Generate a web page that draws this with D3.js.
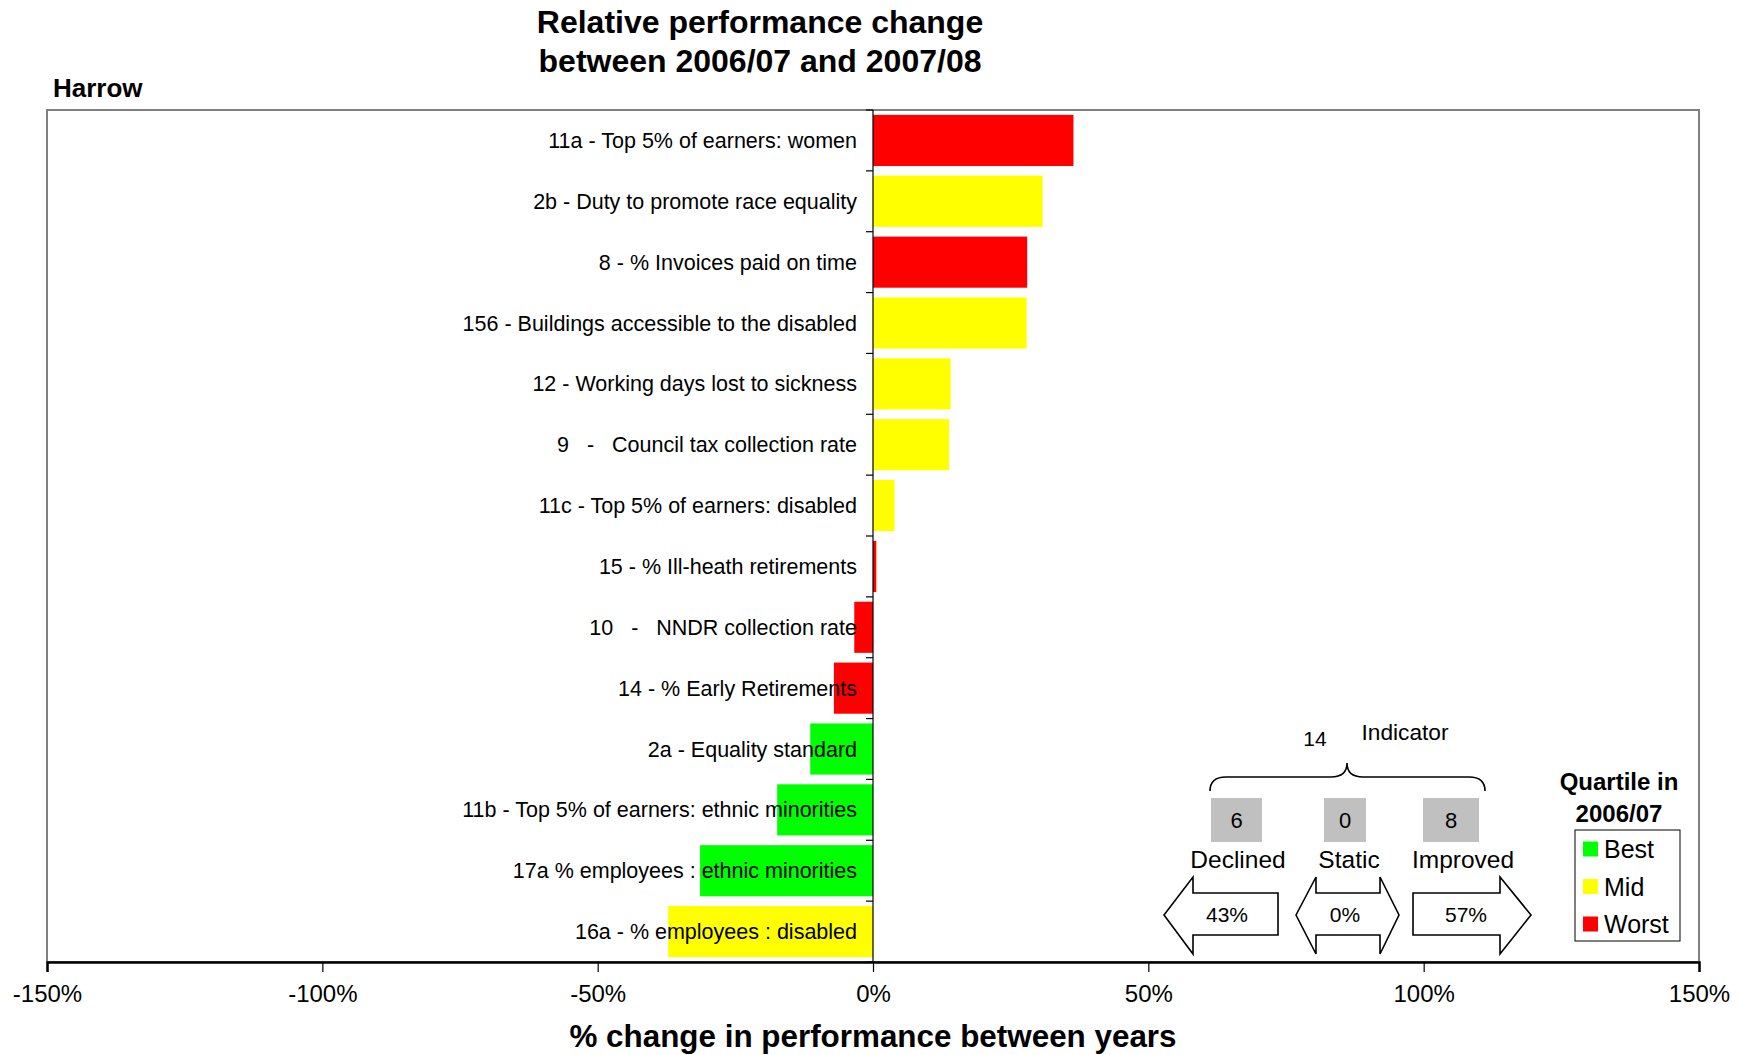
<!DOCTYPE html>
<html><head><meta charset="utf-8">
<script src="https://cdn.jsdelivr.net/npm/d3@7"></script>
<style>
body{margin:0;background:#fff;}
svg{font-family:"Liberation Sans",Arial,sans-serif;}
text{white-space:pre;}
</style></head>
<body><svg id="c" width="1740" height="1055"></svg>
<script>
const categories = [
  "11a - Top 5% of earners: women",
  "2b - Duty to promote race equality",
  "8 - % Invoices paid on time",
  "156 - Buildings accessible to the disabled",
  "12 - Working days lost to sickness",
  "9   -   Council tax collection rate",
  "11c - Top 5% of earners: disabled",
  "15 - % Ill-heath retirements",
  "10   -   NNDR collection rate",
  "14 - % Early Retirements",
  "2a - Equality standard",
  "11b - Top 5% of earners: ethnic minorities",
  "17a % employees : ethnic minorities",
  "16a - % employees : disabled"
];
const values = [36.4, 30.8, 28.0, 27.9, 14.1, 13.8, 3.9, 0.6, -3.4, -7.1, -11.4, -17.4, -31.4, -37.2];
const quartiles = ["Worst","Mid","Worst","Mid","Mid","Mid","Mid","Worst","Worst","Worst","Best","Best","Best","Mid"];
const xTicks = [-150, -100, -50, 0, 50, 100, 150];
const legendLabels = ["Best","Mid","Worst"];
const legendColors = ["#00FF00","#FFFF00","#FF0000"];
const summaryLabels = ["Declined","Static","Improved"];
const summaryCounts = [6, 0, 8];
const summaryPercents = ["43%","0%","57%"];
const totalIndicators = 14;

const colorOf = d3.scaleOrdinal().domain(legendLabels).range(legendColors);
const svg = d3.select("#c");
const L = 47, R = 1699, T = 110, B = 962;
const x = d3.scaleLinear().domain([-150,150]).range([L,R]);
const y = d3.scaleBand().domain(categories).range([T,B]).paddingInner(0.16).paddingOuter(0.08);
const step = y.step();

// Titles
svg.append("text").attr("x",760).attr("y",33).attr("text-anchor","middle")
  .attr("font-weight","bold").attr("font-size",32).text("Relative performance change");
svg.append("text").attr("x",760).attr("y",72).attr("text-anchor","middle")
  .attr("font-weight","bold").attr("font-size",32).text("between 2006/07 and 2007/08");
svg.append("text").attr("x",53).attr("y",97).attr("font-weight","bold").attr("font-size",26).text("Harrow");

// plot border
svg.append("rect").attr("x",L).attr("y",T).attr("width",R-L).attr("height",B-T)
  .attr("fill","none").attr("stroke","#808080").attr("stroke-width",2);

// bars
svg.append("g").selectAll("rect").data(categories).join("rect")
  .attr("x",(d,i)=>x(Math.min(0,values[i])))
  .attr("y",d=>y(d))
  .attr("width",(d,i)=>Math.abs(x(values[i])-x(0)))
  .attr("height",y.bandwidth())
  .attr("fill",(d,i)=>colorOf(quartiles[i]));

// zero axis with category ticks
svg.append("line").attr("x1",x(0)).attr("x2",x(0)).attr("y1",T).attr("y2",B)
  .attr("stroke","#000").attr("stroke-width",1.2);
svg.append("g").selectAll("line").data(d3.range(categories.length+1)).join("line")
  .attr("x1",x(0)-7).attr("x2",x(0)).attr("y1",i=>T+i*step).attr("y2",i=>T+i*step)
  .attr("stroke","#000").attr("stroke-width",1.2);

// category labels
svg.append("g").selectAll("text").data(categories).join("text")
  .attr("x",x(0)-16).attr("y",d=>y(d)+y.bandwidth()/2).attr("dy","0.35em")
  .attr("text-anchor","end").attr("font-size",21.5).attr("fill","#000").text(d=>d);

// x axis
const xa = svg.append("g").attr("transform",`translate(0,${B})`)
  .call(d3.axisBottom(x).tickValues(xTicks).tickFormat(d=>d+"%").tickSize(10).tickPadding(13));
xa.select(".domain").attr("stroke","#000").attr("stroke-width",2.5);
xa.selectAll(".tick line").attr("stroke","#000").attr("stroke-width",1.2);
xa.selectAll(".tick text").attr("font-size",24).attr("font-family","Liberation Sans, Arial, sans-serif").attr("fill","#000");

svg.append("text").attr("x",x(0)).attr("y",1047).attr("text-anchor","middle")
  .attr("font-weight","bold").attr("font-size",31.4).text("% change in performance between years");

// Summary annotation
const ann = svg.append("g");
ann.append("text").attr("x",1315).attr("y",746).attr("text-anchor","middle").attr("font-size",21).text(String(totalIndicators));
ann.append("text").attr("x",1405).attr("y",740).attr("text-anchor","middle").attr("font-size",22.7).text("Indicator");
svg.append("defs").append("clipPath").attr("id","clipS").append("rect")
  .attr("x",1380).attr("y",745).attr("width",50).attr("height",16);
ann.append("text").attr("x",1405).attr("y",777).attr("text-anchor","middle").attr("font-size",22.7)
  .attr("clip-path","url(#clipS)").text("s");
// brace
ann.append("path").attr("fill","none").attr("stroke","#000").attr("stroke-width",1.6)
  .attr("d","M1210,791 Q1210,777 1226,777 L1331,777 Q1347,777 1347,763 Q1347,777 1363,777 L1469,777 Q1485,777 1485,791");

const boxX = [[1211,1262],[1324,1366],[1423,1479]];
const labelX = [1238,1349,1463];
boxX.forEach((b,i)=>{
  ann.append("rect").attr("x",b[0]).attr("y",798).attr("width",b[1]-b[0]).attr("height",44).attr("fill","#C0C0C0");
  ann.append("text").attr("x",(b[0]+b[1])/2).attr("y",828).attr("text-anchor","middle").attr("font-size",22).text(String(summaryCounts[i]));
  ann.append("text").attr("x",labelX[i]).attr("y",868).attr("text-anchor","middle").attr("font-size",24.5).text(summaryLabels[i]);
});
const arrowStyle = s=>s.attr("fill","#fff").attr("stroke","#000").attr("stroke-width",1.6);
arrowStyle(ann.append("path").attr("d","M1164,915 L1193,877 L1193,893 L1278,893 L1278,935 L1193,935 L1193,954 Z"));
arrowStyle(ann.append("path").attr("d","M1296,915 L1316,877 L1316,893 L1380,893 L1380,877 L1399,915 L1380,954 L1380,935 L1316,935 L1316,954 Z"));
arrowStyle(ann.append("path").attr("d","M1413,893 L1500,893 L1500,877 L1531,915 L1500,954 L1500,935 L1413,935 Z"));
const pctX = [1227,1345,1466];
pctX.forEach((px,i)=>{
  ann.append("text").attr("x",px).attr("y",922).attr("text-anchor","middle").attr("font-size",21).text(summaryPercents[i]);
});

// legend
svg.append("text").attr("x",1619).attr("y",790).attr("text-anchor","middle").attr("font-weight","bold").attr("font-size",24).text("Quartile in");
svg.append("text").attr("x",1619).attr("y",822).attr("text-anchor","middle").attr("font-weight","bold").attr("font-size",24).text("2006/07");
svg.append("rect").attr("x",1575).attr("y",830).attr("width",105).attr("height",111).attr("fill","#fff").attr("stroke","#000").attr("stroke-width",1);
const lg = svg.append("g").selectAll("g").data(legendLabels).join("g")
  .attr("transform",(d,i)=>`translate(1583,${849+i*37.5})`);
lg.append("rect").attr("x",0).attr("y",-7.5).attr("width",15).attr("height",15).attr("fill",d=>colorOf(d));
lg.append("text").attr("x",21).attr("y",0).attr("dy","0.36em").attr("font-size",25).text(d=>d);
</script></body></html>
